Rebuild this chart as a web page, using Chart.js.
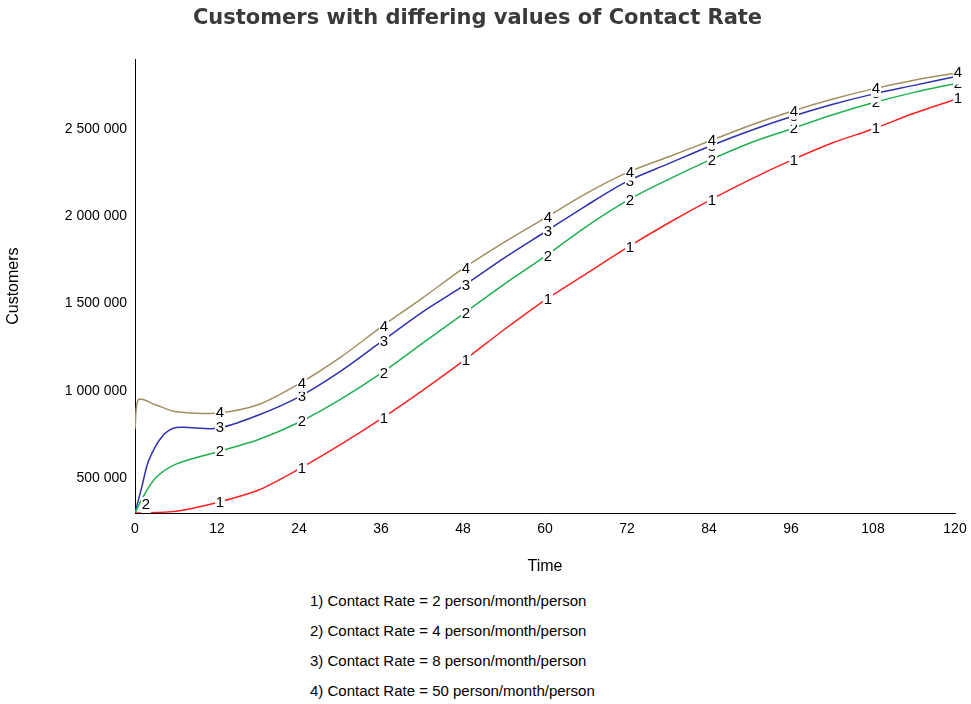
<!DOCTYPE html><html><head><script src="https://cdn.jsdelivr.net/npm/chart.js@4"></script>
<style>body{margin:0;background:#fff;font-family:"Liberation Sans",Arial,sans-serif}
#wrap{position:relative;width:971px;height:580px}
#leg{position:absolute;left:310px;top:586px;font-size:15px;line-height:30px;color:#000}
</style></head><body>
<div id="wrap"><canvas id="c" width="971" height="580"></canvas></div>
<div id="leg"></div>
<script>
const months=[0,6,12,18,24,30,36,42,48,54,60,66,72,78,84,90,96,102,108,114,120];
const s1=[300000,310000,360000,430000,552000,690000,839000,1000000,1170000,1350000,1520000,1670000,1820000,1960000,2090000,2210000,2320000,2420000,2500000,2590000,2670000];
const s2=[300000,580000,650000,720000,820000,950000,1100000,1270000,1440000,1610000,1770000,1940000,2090000,2210000,2320000,2420000,2500000,2580000,2650000,2710000,2760000];
const s3=[300000,790000,785000,860000,965000,1110000,1280000,1450000,1600000,1760000,1910000,2060000,2200000,2300000,2400000,2490000,2570000,2640000,2700000,2750000,2800000];
const s4=[780000,880000,873000,920000,1040000,1190000,1365000,1530000,1700000,1850000,1990000,2130000,2250000,2340000,2430000,2520000,2600000,2670000,2730000,2780000,2820000];
const early2=[[1,380000],[3,500000]],early3=[[1,450000],[2,600000],[4,740000]],early4=[[0.5,950000],[3,920000]];
const yTicks=[500000,1000000,1500000,2000000,2500000];
const legend=["1) Contact Rate = 2 person/month/person","2) Contact Rate = 4 person/month/person","3) Contact Rate = 8 person/month/person","4) Contact Rate = 50 person/month/person"];
document.getElementById('leg').innerHTML=legend.map(t=>'<div>'+t+'</div>').join('');
function pts(v,extra){let p=months.map((m,i)=>({x:m,y:v[i]}));if(extra)p=p.concat(extra.map(e=>({x:e[0],y:e[1]})));return p.sort((a,b)=>a.x-b.x);}
const cols=['#ff2020','#20b050','#3030b0','#a09060'];
const labelPlug={id:'lbl',afterDatasetsDraw(ch){const c=ch.ctx,xs=ch.scales.x,ys=ch.scales.y;c.save();c.font='15px "Liberation Sans",Arial';c.textAlign='center';c.textBaseline='middle';
ch.data.datasets.forEach((d,i)=>{d.data.forEach(p=>{if(p.x%12===0&&!(p.x===0&&i!==1&&i!==0)){let x=xs.getPixelForValue(p.x)+3,y=ys.getPixelForValue(p.y);if(p.x===0){x+=8;y-=8;}c.fillStyle='#fff';c.fillRect(x-5,y-8,10,16);c.fillStyle='#000';c.fillText(String(i+1),x,y);}});});c.restore();}};
new Chart(document.getElementById('c'),{type:'line',data:{datasets:[
{data:pts(s1),borderColor:cols[0]},{data:pts(s2,early2),borderColor:cols[1]},{data:pts(s3,early3),borderColor:cols[2]},{data:pts(s4,early4),borderColor:cols[3]}].map(d=>Object.assign(d,{borderWidth:1.5,pointRadius:0,tension:0.3,fill:false}))},
options:{responsive:false,animation:false,layout:{padding:{right:16,left:0}},plugins:{legend:{display:false},title:{display:true,text:'Customers with differing values of Contact Rate',color:'#3a3a3a',font:{size:21,weight:'600',family:'"DejaVu Sans"'},padding:{top:6,bottom:28}}},
scales:{x:{type:'linear',min:0,max:120,afterFit(a){a.height=67;},ticks:{stepSize:12,color:'#000',font:{size:14}},grid:{display:false,drawTicks:true,tickLength:5},border:{color:'#000'},title:{display:true,text:'Time',color:'#000',font:{size:16}}},
y:{min:300000,max:2900000,afterFit(a){a.width=135;},afterBuildTicks(a){a.ticks=yTicks.map(v=>({value:v}));},ticks:{color:'#000',font:{size:14},callback:v=>v.toLocaleString('en-US').replace(/,/g,' ')},grid:{display:false,tickLength:5},border:{color:'#000'},title:{display:true,text:'Customers',color:'#000',font:{size:16}}}}},plugins:[labelPlug]});
</script></body></html>
